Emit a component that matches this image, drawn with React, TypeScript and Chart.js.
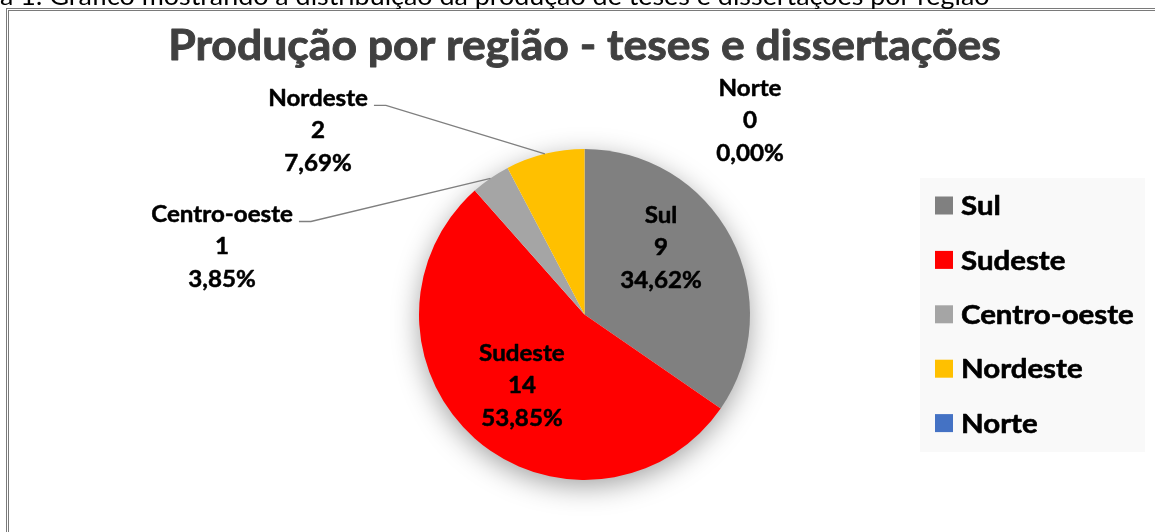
import React, { useEffect, useRef } from "react";
import { Chart, registerables } from "chart.js";

Chart.register(...registerables);

// ---- data ----
const regions = ["Sul", "Sudeste", "Centro-oeste", "Nordeste", "Norte"];
const counts = [9, 14, 1, 2, 0];
const sliceColors = ["#808080", "#FF0000", "#A5A5A5", "#FFC000", "#4472C4"];
const chartTitle = "Produção por região - teses e dissertações";
const captionText =
  "a 1: Gráfico mostrando a distribuição da produção de teses e dissertações por região";

// label block centres, relative to the pie centre, in units of the pie radius
const labelOffsetX = [0.462, -0.378, -2.19, -1.61, 1.0];
const labelOffsetY = [-0.402, 0.432, -0.408, -1.109, -1.169];
const labelLeader = [false, false, true, true, false];

const FONT = "Lato, 'Open Sans', sans-serif";

function fmtPct(v: number, total: number) {
  return (total ? (v / total) * 100 : 0).toFixed(2).replace(".", ",") + "%";
}

// draws text with a slight horizontal stretch (to mimic Calibri's proportions)
function stretchText(
  ctx: CanvasRenderingContext2D,
  t: string,
  x: number,
  y: number,
  sx: number,
  heavy = 0
) {
  ctx.save();
  ctx.translate(x, y);
  ctx.scale(sx, 1);
  ctx.fillText(t, 0, 0);
  if (heavy > 0) {
    ctx.strokeStyle = ctx.fillStyle as string;
    ctx.lineWidth = heavy;
    ctx.lineJoin = "round";
    ctx.strokeText(t, 0, 0);
  }
  ctx.restore();
}

const decorPlugin = {
  id: "decor",
  beforeDatasetsDraw(chart: any) {
    const meta = chart.getDatasetMeta(0);
    const arc = meta.data[0];
    if (!arc) return;
    const { x, y, outerRadius } = arc.getProps(["x", "y", "outerRadius"], true);
    const ctx = chart.ctx;
    ctx.save();
    ctx.shadowColor = "rgba(0,0,0,0.38)";
    ctx.shadowBlur = 28;
    ctx.shadowOffsetY = 7;
    ctx.fillStyle = "#ffffff";
    ctx.beginPath();
    ctx.arc(x, y, outerRadius - 1, 0, Math.PI * 2);
    ctx.fill();
    ctx.restore();
  },
  afterDraw(chart: any) {
    const ctx: CanvasRenderingContext2D = chart.ctx;
    const meta = chart.getDatasetMeta(0);
    const a0 = meta.data[0];
    const { x: cx, y: cy, outerRadius: R } = a0.getProps(["x", "y", "outerRadius"], true);
    const data: number[] = chart.data.datasets[0].data;
    const labels: string[] = chart.data.labels;
    const colors: string[] = chart.data.datasets[0].backgroundColor;
    const total = data.reduce((s, v) => s + v, 0);

    ctx.save();
    // caption (cut at the top of the page)
    ctx.fillStyle = "#000";
    ctx.font = `25px ${FONT}`;
    ctx.textAlign = "left";
    ctx.textBaseline = "alphabetic";
    stretchText(ctx, captionText, 0, 5, 1.075);

    // title
    ctx.fillStyle = "#404040";
    ctx.font = `bold 42px ${FONT}`;
    ctx.textAlign = "center";
    stretchText(ctx, chartTitle, cx, 60, 1.06, 0.9);

    // data labels
    ctx.font = `bold 23px ${FONT}`;
    const sx = 1.05;
    const lh = 32.5;
    meta.data.forEach((el: any, i: number) => {
      const { startAngle, endAngle } = el.getProps(["startAngle", "endAngle"], true);
      const lx = cx + labelOffsetX[i] * R;
      const ly = cy + labelOffsetY[i] * R;
      const lines = [labels[i], String(data[i]), fmtPct(data[i], total)];
      ctx.fillStyle = "#000";
      ctx.textAlign = "center";
      ctx.textBaseline = "middle";
      lines.forEach((t, k) => stretchText(ctx, t, lx, ly + (k - 1) * lh, sx, 0.5));
      if (labelLeader[i]) {
        const mid = (startAngle + endAngle) / 2;
        const ex = cx + Math.cos(mid) * R;
        const ey = cy + Math.sin(mid) * R;
        const w = ctx.measureText(lines[0]).width * sx;
        const x0 = lx + w / 2 + 6;
        const yy = ly - lh + 7;
        ctx.strokeStyle = "#7f7f7f";
        ctx.lineWidth = 1.3;
        ctx.beginPath();
        ctx.moveTo(x0, yy);
        ctx.lineTo(x0 + 12, yy);
        ctx.lineTo(ex, ey);
        ctx.stroke();
      }
    });

    // legend
    const lgX = 920, lgY = 178, lgW = 225, lgH = 274;
    ctx.fillStyle = "#f9f9f9";
    ctx.fillRect(lgX, lgY, lgW, lgH);
    const step = 54.4;
    const firstY = 205.5;
    ctx.font = `bold 27px ${FONT}`;
    ctx.textAlign = "left";
    ctx.textBaseline = "middle";
    labels.forEach((lab, i) => {
      const yy = firstY + i * step;
      ctx.fillStyle = colors[i];
      ctx.fillRect(lgX + 15, yy - 9, 18, 18);
      ctx.fillStyle = "#000";
      stretchText(ctx, lab, lgX + 41, yy + 1, 1.09, 0.6);
    });
    ctx.restore();
  },
};

export default function App() {
  const ref = useRef<HTMLCanvasElement | null>(null);
  useEffect(() => {
    if (!ref.current) return;
    const chart = new Chart(ref.current, {
      type: "pie",
      data: {
        labels: regions,
        datasets: [
          {
            data: counts,
            backgroundColor: sliceColors,
            borderWidth: 0,
          },
        ],
      },
      options: {
        responsive: false,
        animation: false,
        layout: { padding: { left: 419, right: 405, top: 149, bottom: 52 } },
        plugins: {
          legend: { display: false },
          tooltip: { enabled: false },
          title: { display: false },
        },
      },
      plugins: [decorPlugin],
    });
    return () => chart.destroy();
  }, []);

  return (
    <div
      style={{
        position: "absolute",
        left: 0,
        top: 0,
        width: 1155,
        height: 532,
        overflow: "hidden",
        background: "#fff",
      }}
    >
      <div
        style={{
          position: "absolute",
          left: 6,
          top: 8,
          width: 1200,
          height: 600,
          borderTop: "3px double #7a7a7a",
          borderLeft: "3px double #7a7a7a",
        }}
      />
      <canvas
        ref={ref}
        width={1155}
        height={532}
        style={{ position: "absolute", left: 0, top: 0, display: "block" }}
      />
    </div>
  );
}
